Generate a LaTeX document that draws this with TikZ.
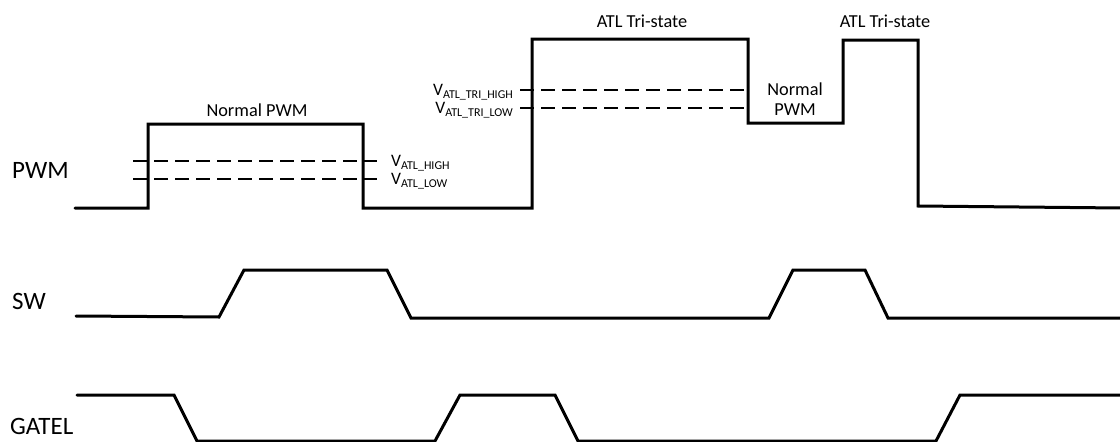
\documentclass[tikz,border=0pt]{standalone}
\usepackage{fontspec}
\setmainfont{Carlito}
\newcommand{\sigfont}{\fontsize{25}{29}\selectfont}
\newcommand{\notefont}{\fontsize{18.3}{22}\selectfont}
\newcommand{\vlab}[1]{{\fontsize{17.5}{20}\selectfont V}{\fontsize{12}{14}\selectfont\raisebox{-2.5pt}{#1}}}
\begin{document}
\begin{tikzpicture}[x=1pt,y=-1pt,
  wave/.style={line width=3pt,line join=miter,line cap=round},
  thr/.style={line width=1.8pt,dash pattern=on 14pt off 7pt},
  sig/.style={anchor=base west,inner sep=0pt,font=\sigfont},
  note/.style={inner sep=0pt,font=\notefont,align=center}]
\useasboundingbox (0,0) rectangle (1120,442);
\clip (0,0) rectangle (1120,442);
% signal names
\node[sig] (lblpwm) at (12,178) {PWM};
\node[sig] (lblsw) at (12,309) {SW};
\node[sig] (lblgatel) at (10,434) {GATEL};
% notes
\node[note,anchor=base] (n1) at (257,116) {Normal PWM};
\node[note,anchor=base] (t1) at (642,27) {ATL Tri-state};
\node[note,anchor=base] (t2) at (885,27) {ATL Tri-state};
\node[note] (n2) at (795,99) {Normal\\[-2pt]PWM};
% threshold labels
\node[anchor=west,inner sep=0pt] (vh) at (391,163) {\vlab{ATL\_HIGH}};
\node[anchor=west,inner sep=0pt] (vl) at (391,181) {\vlab{ATL\_LOW}};
\node[anchor=east,inner sep=0pt] (vth) at (513,92) {\vlab{ATL\_TRI\_HIGH}};
\node[anchor=east,inner sep=0pt] (vtl) at (513,110) {\vlab{ATL\_TRI\_LOW}};
% threshold dashed lines
\draw[thr] (133,161) -- (377,161);
\draw[thr] (133,179) -- (377,179);
\draw[thr] (520,90) -- (750,90);
\draw[thr] (520,108) -- (750,108);
% PWM
\draw[wave] (75,208) -- (148,208) -- (148,124) -- (363,124) -- (363,208)
  -- (532,208) -- (532,39) -- (748,39) -- (748,123) -- (843,123)
  -- (843,40) -- (918,40) -- (918,206) -- (1121,208);
% SW
\draw[wave] (76,316) -- (219,317) -- (244,270) -- (387,270) -- (411,318)
  -- (769,318) -- (793,270) -- (865,270) -- (888,318) -- (1121,318);
% GATEL
\draw[wave] (77,395) -- (174,395) -- (197,441) -- (435,441) -- (460,395)
  -- (555,395) -- (578,441) -- (936,441) -- (960,395) -- (1121,395);
\end{tikzpicture}
\end{document}
